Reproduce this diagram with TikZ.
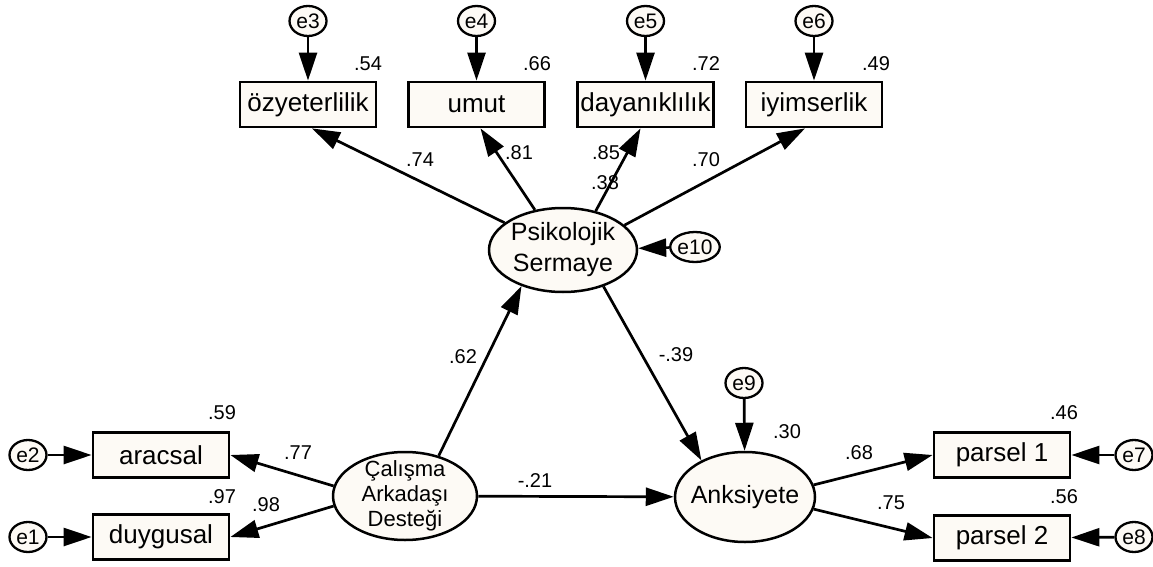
\documentclass[tikz,border=0pt]{standalone}
\usepackage{fontspec}
\setmainfont{Liberation Sans}
\usetikzlibrary{shapes.geometric,arrows.meta}
\definecolor{nodefill}{RGB}{253,250,245}
\begin{document}
\begin{tikzpicture}[x=1pt,y=-1pt,
  obs/.style={draw,line width=2.8pt,fill=nodefill,minimum width=136pt,minimum height=45pt,inner sep=0pt,font=\fontsize{26}{30}\selectfont},
  latent/.style={ellipse,draw,line width=2.5pt,fill=nodefill,inner sep=0pt},
  lattext/.style={align=center,inner sep=0pt},
  err/.style={ellipse,draw,line width=2.3pt,fill=nodefill,minimum width=37pt,minimum height=30pt,inner sep=0pt,font=\fontsize{21}{22}\selectfont},
  reg/.style={line width=2.7pt,-{Triangle[length=28pt,width=18pt]}},
  coef/.style={inner sep=0pt,font=\fontsize{20}{21}\selectfont}
]
\useasboundingbox (0,0) rectangle (1153,567);

% observed indicators
\node[obs] (oz) at (308,104.5) {özyeterlilik};
\node[obs] (um) at (476.5,104.5) {umut};
\node[obs] (da) at (645.5,104.5) {dayanıklılık};
\node[obs] (iy) at (814,104.5) {iyimserlik};
\node[obs] (ar) at (161,455) {aracsal};
\node[obs] (du) at (161,537) {duygusal};
\node[obs] (p1) at (1002,455) {parsel 1};
\node[obs] (p2) at (1002,538) {parsel 2};

% latent variables
\node[latent,minimum width=148pt,minimum height=84pt] (psi) at (563,250) {};
\node[lattext,font=\fontsize{25}{31}\selectfont] (psit) at (psi) {Psikolojik\\Sermaye};
\node[latent,minimum width=144pt,minimum height=88pt] (cal) at (405,496) {};
\node[lattext,font=\fontsize{22}{25}\selectfont] (calt) at (cal) {Çalışma\\Arkadaşı\\Desteği};
\node[latent,minimum width=140pt,minimum height=90pt] (ank) at (745,497) {};
\node[lattext,font=\fontsize{25}{30}\selectfont] (ankt) at (ank) {Anksiyete};

% error terms
\node[err] (e3) at (308,21) {e3};
\node[err] (e4) at (476.5,21) {e4};
\node[err] (e5) at (645.5,21) {e5};
\node[err] (e6) at (814,21) {e6};
\node[err] (e10) at (695,247) {e10};
\node[err] (e9) at (744,383) {e9};
\node[err] (e2) at (28,455) {e2};
\node[err] (e1) at (28,537) {e1};
\node[err] (e7) at (1134,455) {e7};
\node[err] (e8) at (1134,537) {e8};

% error paths
\draw[reg] (e3) -- (oz);
\draw[reg] (e4) -- (um);
\draw[reg] (e5) -- (da);
\draw[reg] (e6) -- (iy);
\draw[reg] (e10) -- (psi);
\draw[reg] (e9) -- (ank);
\draw[reg] (e2) -- (ar);
\draw[reg] (e1) -- (du);
\draw[reg] (e7) -- (p1);
\draw[reg] (e8) -- (p2);

% loadings and structural paths
\draw[reg] (psi.155) -- ([xshift=4pt]oz.south);
\draw[reg] (psi.125) -- ([xshift=4pt]um.south);
\draw[reg] (psi.50) -- ([xshift=-5pt]da.south);
\draw[reg] (psi.22) -- ([xshift=-9pt]iy.south);
\draw[reg] (psi.-42) -- (ank.140);
\draw[reg] (cal.50) -- (psi.221);
\draw[reg] (cal) -- (ank);
\draw[reg] (cal.172) -- (ar.east);
\draw[reg] (cal.188) -- (du.east);
\draw[reg] (ank.10) -- (p1.west);
\draw[reg] (ank.-10) -- (p2.west);

% coefficients
\node[coef] (c1) at (368,64) {.54};
\node[coef] (c2) at (537,64) {.66};
\node[coef] (c3) at (706,64) {.72};
\node[coef] (c4) at (876,64) {.49};
\node[coef] (c5) at (420,160) {.74};
\node[coef] (c6) at (519,153) {.81};
\node[coef] (c7) at (606,153) {.85};
\node[coef] (c8) at (605,183) {.38};
\node[coef] (c9) at (706,160) {.70};
\node[coef] (c10) at (463,357) {.62};
\node[coef] (c11) at (676,355) {-.39};
\node[coef] (c12) at (787,432) {.30};
\node[coef] (c13) at (535,481) {-.21};
\node[coef] (c14) at (222,413) {.59};
\node[coef] (c15) at (222,497) {.97};
\node[coef] (c16) at (298,453) {.77};
\node[coef] (c17) at (266,505) {.98};
\node[coef] (c18) at (1064,413) {.46};
\node[coef] (c19) at (1064,497) {.56};
\node[coef] (c20) at (859,453) {.68};
\node[coef] (c21) at (891,503) {.75};
\end{tikzpicture}
\end{document}
